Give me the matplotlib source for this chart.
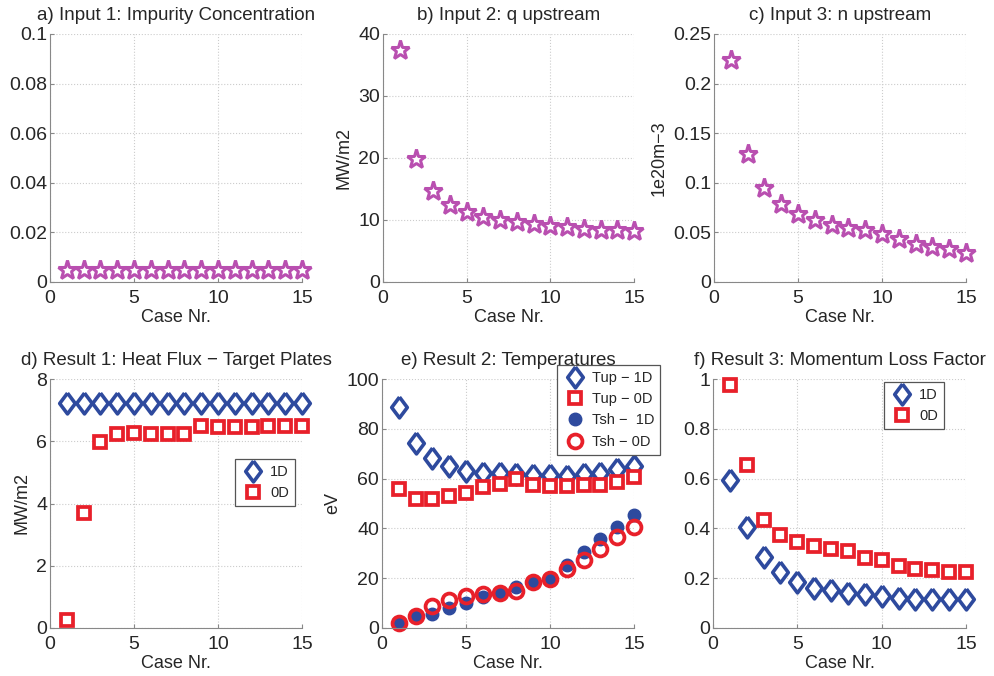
import numpy as np
import matplotlib.pyplot as plt
from matplotlib.ticker import FormatStrFormatter

# data
cases = np.arange(1, 16)
impurity = [0.005] * 15
q_up = [37.5, 19.8, 14.7, 12.5, 11.3, 10.5, 10.0, 9.7, 9.35, 9.1, 8.8, 8.6, 8.4, 8.4, 8.3]
n_up = [0.224, 0.129, 0.095, 0.079, 0.069, 0.0625, 0.057, 0.054, 0.052, 0.048, 0.043, 0.038, 0.0356, 0.033, 0.029]

heat_1d = [7.22] * 15
heat_0d = [0.27, 3.69, 5.96, 6.24, 6.25, 6.24, 6.23, 6.24, 6.5, 6.47, 6.47, 6.47, 6.48, 6.49, 6.49]

tup_1d = [88.6, 74.2, 68.2, 65.1, 63.2, 62.1, 62.4, 62.0, 61.3, 61.3, 61.0, 61.7, 62.4, 63.8, 65.1]
tup_0d = [56.0, 51.7, 51.7, 53.0, 54.4, 56.5, 57.9, 59.7, 57.3, 57.0, 57.0, 57.3, 57.6, 58.8, 60.5]
tsh_1d = [1.7, 4.7, 5.8, 8.2, 10.1, 12.5, 14.1, 16.5, 18.9, 20.0, 25.2, 30.5, 35.6, 40.7, 45.2]
tsh_0d = [2.0, 4.7, 9.0, 11.1, 12.8, 13.8, 14.1, 14.9, 18.4, 19.7, 23.8, 27.5, 31.8, 36.4, 40.7]

mom_1d = [0.595, 0.407, 0.286, 0.223, 0.185, 0.162, 0.152, 0.141, 0.136, 0.128, 0.12, 0.117, 0.117, 0.117, 0.117]
mom_0d = [0.977, 0.655, 0.434, 0.373, 0.345, 0.329, 0.318, 0.31, 0.28, 0.272, 0.251, 0.237, 0.232, 0.226, 0.224]

plt.rcParams['font.family'] = ['Liberation Sans', 'DejaVu Sans']
txt = '#262626'
magenta = '#b94fb0'
blue = '#2e4a9e'
red = '#e8202a'

fig = plt.figure(figsize=(9.94, 6.76), dpi=100)
W, H = 994.0, 676.0

def make_ax(left, right, top, bottom, title, ylim, ystep, ylabel=None, fmt='%g'):
    ax = fig.add_axes([left / W, 1 - bottom / H, (right - left) / W, (bottom - top) / H])
    ax.set_xlim(0, 15)
    ax.set_ylim(*ylim)
    ax.set_xticks([0, 5, 10, 15])
    ax.set_yticks(np.arange(ylim[0], ylim[1] + ystep / 2, ystep))
    ax.yaxis.set_major_formatter(FormatStrFormatter(fmt))
    ax.grid(True, linestyle=':', color='#cccccc', linewidth=0.8)
    for s in ['top', 'right']:
        ax.spines[s].set_visible(False)
    for s in ['left', 'bottom']:
        ax.spines[s].set_color('#888888')
    ax.tick_params(direction='in', length=3, colors='#888888', labelcolor=txt, labelsize=14)
    ax.tick_params(axis='x', pad=6)
    ax.tick_params(axis='y', pad=2)
    ax.set_title(title, fontsize=13.5, color=txt, pad=10)
    ax.set_xlabel('Case Nr.', fontsize=13, color=txt, labelpad=1)
    if ylabel:
        ax.set_ylabel(ylabel, fontsize=13, color=txt, labelpad=4)
    ax.set_axisbelow(True)
    return ax

def add_legend(ax, x, y):
    leg = ax.legend(loc='upper left', bbox_to_anchor=(x / W, 1 - y / H), bbox_transform=fig.transFigure,
                    borderaxespad=0, fontsize=10.5, fancybox=False, edgecolor='#555555',
                    borderpad=0.4, handletextpad=0.4, handlelength=1.6, labelspacing=0.5,
                    framealpha=1)
    leg.get_frame().set_linewidth(0.9)
    for t in leg.get_texts():
        t.set_color(txt)

diamond = [(0, 1), (0.75, 0), (0, -1), (-0.75, 0), (0, 1)]
star = dict(marker='*', linestyle='none', ms=14, mfc='white', mec=magenta, mew=2.2, clip_on=False)
diam = dict(marker=diamond, linestyle='none', ms=15, mfc='white', mec=blue, mew=2.6, clip_on=False)
sq = dict(marker='s', linestyle='none', ms=9, mfc='white', mec=red, mew=2.7, clip_on=False)

# top row
ax = make_ax(50, 302, 34, 282, 'a) Input 1: Impurity Concentration', (0, 0.1), 0.02)
ax.plot(cases, impurity, **star)

ax = make_ax(383, 634, 34, 282, 'b) Input 2: q upstream', (0, 40), 10, 'MW/m2')
ax.plot(cases, q_up, **star)

ax = make_ax(714, 966, 34, 282, 'c) Input 3: n upstream', (0, 0.25), 0.05, '1e20m\u22123')
ax.plot(cases, n_up, **star)

# bottom row
ax = make_ax(50, 302, 379, 628, 'd) Result 1: Heat Flux \u2212 Target Plates', (0, 8), 2, 'MW/m2')
ax.plot(cases, heat_1d, label='1D', **diam)
ax.plot(cases, heat_0d, label='0D', **sq)
add_legend(ax, 235, 459)

ax = make_ax(382, 634, 379, 628, 'e) Result 2: Temperatures', (0, 100), 20, 'eV')
ax.plot(cases, tup_1d, label='Tup \u2212 1D', **diam)
ax.plot(cases, tup_0d, label='Tup \u2212 0D', **sq)
ax.plot(cases, tsh_1d, label='Tsh \u2212  1D', marker='o', linestyle='none', ms=9,
        mfc=blue, mec=blue, clip_on=False)
ax.plot(cases, tsh_0d, label='Tsh \u2212 0D', marker='o', linestyle='none', ms=10,
        mfc='none', mec=red, mew=2.7, clip_on=False)
add_legend(ax, 557, 365)

ax = make_ax(713, 966, 379, 628, 'f) Result 3: Momentum Loss Factor', (0, 1), 0.2)
ax.plot(cases, mom_1d, label='1D', **diam)
ax.plot(cases, mom_0d, label='0D', **sq)
add_legend(ax, 884, 382)

fig.savefig('out.png', dpi=100)
